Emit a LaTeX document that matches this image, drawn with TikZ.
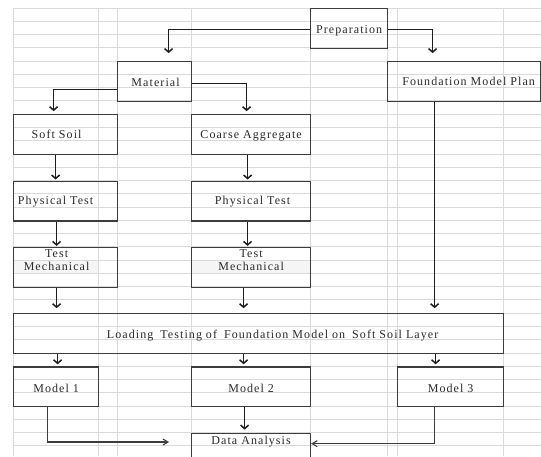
\documentclass[tikz,border=0pt]{standalone}
\usepackage{fontspec}
\setmainfont{Liberation Serif}[LetterSpace=9]
\usetikzlibrary{arrows.meta}
\definecolor{gridc}{HTML}{DADADA}
\definecolor{boxc}{HTML}{3C3C3C}
\definecolor{arrc}{HTML}{1E1E1E}
\definecolor{txtc}{HTML}{2A2A2A}
\definecolor{shadec}{HTML}{F5F5F5}
\newcommand\sh[2]{\hspace*{#1}\mbox{#2}}
\newcommand\lbl{\fontsize{12}{13}\selectfont}
\begin{document}
\begin{tikzpicture}[x=1pt,y=-1pt,
  box/.style={draw=boxc, line width=1.2pt, rectangle, inner sep=0pt, anchor=north west, align=center, font=\lbl, text=txtc},
  arr/.style={draw=arrc, line width=1.5pt, -{Straight Barb[length=3.5pt,width=8pt]}},
  thinarr/.style={draw=boxc, line width=1.1pt, -{Straight Barb[length=5pt,width=6pt]}},
  gridl/.style={draw=gridc, line width=0.9pt}]
\useasboundingbox (0,0) rectangle (541,456);
\clip (0,0) rectangle (541,456);
\fill[white] (0,0) rectangle (541,456);
\fill[shadec] (13,260.1) rectangle (98,273.4);
\fill[shadec] (191,260.1) rectangle (310,273.4);
\foreach \k in {0,...,34} \draw[gridl] (13,{8+13.27*\k}) -- (541,{8+13.27*\k});
\foreach \x in {13,98,117,191,310,387,397,503} \draw[gridl] (\x,8) -- (\x,456);

\node[box, text width=77pt, text height=24.5pt, text depth=15.3pt] (prep) at (310,8) {\sh{0pt}{Preparation}};
\node[box, text width=74pt, text height=24.4pt, text depth=15.4pt] (mat) at (117,61.1) {\sh{2pt}{Material}};
\node[box, text width=153pt, text height=23.4pt, text depth=16.4pt] (fmp) at (387,61.1) {\sh{9pt}{Foundation Model Plan}};
\node[box, text width=104pt, text height=23.3pt, text depth=16.5pt] (ss) at (13,114.2) {\sh{-18pt}{Soft Soil}};
\node[box, text width=119pt, text height=23.3pt, text depth=16.5pt] (ca) at (191,114.2) {\sh{0pt}{Coarse Aggregate}};
\node[box, text width=104pt, text height=23pt, text depth=16.8pt] (pt1) at (13,180.5) {\sh{-20pt}{Physical Test}};
\node[box, text width=119pt, text height=23pt, text depth=16.8pt] (pt2) at (191,180.5) {\sh{3pt}{Physical Test}};
\node[box, text width=104pt, text height=22.6pt, text depth=17.2pt] (tm1) at (13,246.9) {\sh{-18pt}{\begin{tabular}[b]{@{}c@{}}Test\\Mechanical\end{tabular}}};
\node[box, text width=119pt, text height=22.6pt, text depth=17.2pt] (tm2) at (191,246.9) {\sh{0pt}{\begin{tabular}[b]{@{}c@{}}Test\\Mechanical\end{tabular}}};
\node[box, text width=490pt, text height=24.3pt, text depth=15.5pt] (load) at (13,313.2) {\sh{28pt}{Loading\hspace{3pt} Testing of\hspace{3pt} Foundation Model on\hspace{3pt} Soft Soil Layer}};
\node[box, text width=85pt, text height=25.2pt, text depth=14.6pt] (m1) at (13,366.3) {\sh{0pt}{Model 1}};
\node[box, text width=119pt, text height=25.2pt, text depth=14.6pt] (m2) at (191,366.3) {\sh{0pt}{Model 2}};
\node[box, text width=106pt, text height=25.2pt, text depth=14.6pt] (m3) at (397,366.3) {\sh{0pt}{Model 3}};
\node[box, text width=119pt, text height=10.9pt, text depth=29pt] (da) at (191,432.6) {\sh{0pt}{Data Analysis}};

\draw[arr] ([yshift=-1pt]prep.west) -| ([xshift=14pt,yshift=8pt]mat.north);
\draw[arr] ([yshift=-1pt]prep.east) -| ([xshift=-31.5pt,yshift=8pt]fmp.north);
\draw[arr] ([yshift=-8pt]mat.west) -| ([xshift=-12pt,yshift=3pt]ss.north);
\draw[arr] ([yshift=-2pt]mat.east) -| ([xshift=-4.5pt,yshift=3pt]ca.north);
\draw[arr] ([xshift=-10pt]ss.south) -- ([xshift=-10pt,yshift=1pt]pt1.north);
\draw[arr] ([xshift=-3.5pt]ca.south) -- ([xshift=-3.5pt,yshift=1pt]pt2.north);
\draw[arr] ([xshift=-9pt]pt1.south) -- ([xshift=-9pt,yshift=1pt]tm1.north);
\draw[arr] ([xshift=-3.5pt]pt2.south) -- ([xshift=-3.5pt,yshift=1pt]tm2.north);
\draw[arr] ([xshift=-9pt]tm1.south) -- ([xshift=-9pt,yshift=5pt]tm1.south |- load.north);
\draw[arr] ([xshift=-7.5pt]tm2.south) -- ([xshift=-7.5pt,yshift=5pt]tm2.south |- load.north);
\draw[arr] ([xshift=-29.5pt]fmp.south) -- ([xshift=-29.5pt,yshift=5pt]fmp.south |- load.north);
\draw[arr] ([xshift=1.5pt]m1.north |- load.south) -- ([xshift=1.5pt,yshift=2pt]m1.north);
\draw[arr] ([xshift=-7.5pt]m2.north |- load.south) -- ([xshift=-7.5pt,yshift=2pt]m2.north);
\draw[arr] ([xshift=-15pt]m3.north |- load.south) -- ([xshift=-15pt,yshift=2pt]m3.north);
\draw[arr] ([xshift=-6.5pt]m2.south) -- ([xshift=-6.5pt,yshift=3pt]da.north);
\coordinate (f1) at (169,442);
\draw[thinarr] ([xshift=-8.5pt]m1.south) |- (f1);
\draw[thinarr] ([xshift=-16pt]m3.south) |- ([yshift=9.5pt]da.east);
\end{tikzpicture}
\end{document}
